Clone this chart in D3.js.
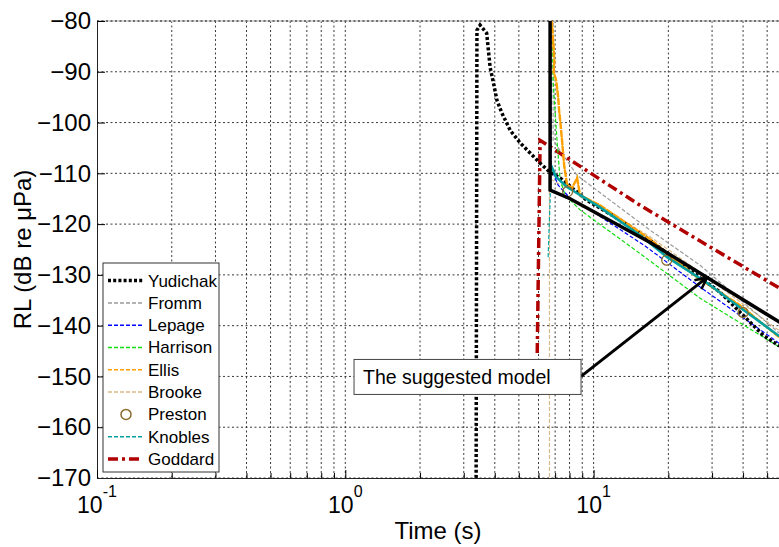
<!DOCTYPE html>
<html>
<head>
<meta charset="utf-8">
<script src="https://cdn.jsdelivr.net/npm/d3@7"></script>
<style>
body { margin: 0; background: #fff; }
svg { display: block; }
svg text { font-family: "Liberation Sans", Arial, sans-serif; }
</style>
</head>
<body>
<script>
// axis ticks
const yTicks = [-80, -90, -100, -110, -120, -130, -140, -150, -160, -170];
const xMajor = [0.1, 1, 10];
const xMajorExp = ["-1", "0", "1"];
const xMinor = [0.2, 0.3, 0.4, 0.5, 0.6, 0.7, 0.8, 0.9, 2, 3, 4, 5, 6, 7, 8, 9, 20, 30, 40, 50];

// series, [time s, RL dB]
const yudichak = [[3.364, -171], [3.39, -81.8], [3.49, -80.8], [3.71, -82.4], [3.83, -89.1], [3.95, -92.2],
  [4.08, -95.6], [4.27, -98.1], [4.61, -101.5], [5.06, -104.0], [5.55, -106.0], [6.09, -108.0], [6.68, -109.8],
  [7.33, -110.9], [9.39, -115.3], [12.8, -119.2], [16.9, -123.2], [22.9, -128.1], [32.3, -133.4], [48.2, -141.9],
  [56, -144.0]];
const fromm = [[6.87, -78], [6.87, -103.5], [8.58, -110.4], [11.65, -115.3], [16.89, -121.2], [26.85, -128.1],
  [56, -141.5]];
const lepage = [[6.74, -78], [6.74, -108.8], [7.19, -112.3], [8.04, -114.9], [9.68, -117.2], [16.12, -124.3],
  [26.85, -132.4], [56, -143.5]];
const harrison = [[6.81, -78], [6.87, -92.0], [7.13, -103.8], [7.33, -111.3], [7.68, -114.3], [8.82, -117.2],
  [15.39, -125.8], [26.85, -134.6], [56, -144.2]];
const ellis = [[6.74, -78], [6.87, -83.7], [6.95, -88], [6.9, -90], [7.06, -91.6], [7.2, -95], [7.26, -97.5],
  [7.35, -100], [7.47, -103.8], [7.61, -108.4], [7.82, -112.3], [8.19, -112.9], [8.58, -110.9], [8.82, -114.3],
  [10.62, -116.3], [16.89, -123.0], [26.12, -130.5], [38.9, -136.0], [56, -142.3]];
const brooke = [[6.64, -171], [6.64, -111], [7.2, -112], [8.0, -113], [9.4, -115], [16.9, -122.5],
  [26.85, -129.5], [56, -141]];
const preston = [[7.86, -113.6], [19.7, -127.1], [40.0, -137.4]];
const knobles = [[6.56, -126.5], [6.68, -115.3], [6.74, -108.4], [7.06, -110.7], [7.82, -112.7], [10.62, -116.7],
  [15.39, -122.2], [19.77, -126.5], [28.65, -131.6], [38.9, -136.4], [49.98, -140.3], [56, -142.1]];
const goddard = [[5.93, -145.4], [6.09, -103.5], [15.39, -116.3], [56, -132.6], [60, -133.5]];
const model = [[6.68, -78], [6.68, -113.3], [8.04, -115.0], [16.9, -123.6], [28.65, -130.5], [56, -139.3],
  [60, -140.2]];

const legendNames = ["Yudichak", "Fromm", "Lepage", "Harrison", "Ellis", "Brooke", "Preston", "Knobles", "Goddard"];
const noteText = "The suggested model";
const noteTail = [8.9, -150];
const noteTip = [28.65, -130.5];

const W = 779, H = 547;
const plotLeft = 97, plotTop = 21, plotBottom = 478;
const decade = 248.3;
const FONT = "Liberation Sans, Arial, sans-serif";

const styles = {
  Yudichak: { color: "#000", width: 3.5, dash: "3,2.2" },
  Fromm: { color: "#9a9a9a", width: 1.2, dash: "4,2" },
  Lepage: { color: "#0000ff", width: 1.2, dash: "4,2" },
  Harrison: { color: "#11dd11", width: 1.2, dash: "4,2" },
  Ellis: { color: "#ffa000", width: 1.3, dash: "4,2" },
  Brooke: { color: "#d9b98a", width: 1.2, dash: "4,2" },
  Preston: { color: "#8c6a2e" },
  Knobles: { color: "#00a0a0", width: 1.2, dash: "4,2" },
  Goddard: { color: "#b00000", width: 3.5, dash: "10,4,3,4" }
};

const svg = d3.select("body").append("svg")
  .attr("width", W)
  .attr("height", H)
  .attr("font-family", FONT);

const x = d3.scaleLog()
  .domain([0.1, 60])
  .range([plotLeft, plotLeft + decade * Math.log10(600)]);

const y = d3.scaleLinear()
  .domain([-170, -80])
  .range([plotBottom, plotTop]);

svg.append("clipPath").attr("id", "plot")
  .append("rect")
  .attr("x", plotLeft).attr("y", plotTop)
  .attr("width", W - plotLeft).attr("height", plotBottom - plotTop);

// grid
const grid = svg.append("g")
  .attr("stroke", "#222")
  .attr("stroke-width", 0.9)
  .attr("stroke-dasharray", "2,2.5");

grid.selectAll("line.gx")
  .data(xMajor.concat(xMinor).filter(d => d > 0.1))
  .enter().append("line")
  .attr("x1", d => x(d)).attr("x2", d => x(d))
  .attr("y1", plotTop).attr("y2", plotBottom);

grid.selectAll("line.gy")
  .data(yTicks)
  .enter().append("line")
  .attr("x1", plotLeft).attr("x2", W)
  .attr("y1", d => y(d)).attr("y2", d => y(d));

// top box line
svg.append("line")
  .attr("x1", plotLeft).attr("x2", W)
  .attr("y1", plotTop).attr("y2", plotTop)
  .attr("stroke", "#c8c8c8").attr("stroke-width", 1.5);
svg.append("line")
  .attr("x1", plotLeft).attr("x2", W)
  .attr("y1", plotTop).attr("y2", plotTop)
  .attr("stroke", "#222").attr("stroke-dasharray", "2,2.5");

// curves
const line = d3.line()
  .x(d => x(d[0]))
  .y(d => y(d[1]));

const plot = svg.append("g").attr("clip-path", "url(#plot)");

const drawn = [
  ["Brooke", brooke], ["Fromm", fromm], ["Goddard", goddard], ["Harrison", harrison], ["Lepage", lepage],
  ["Ellis", ellis], ["Knobles", knobles], ["Yudichak", yudichak]
];

drawn.forEach(function(s) {
  const st = styles[s[0]];
  plot.append("path")
    .attr("d", line(s[1]))
    .attr("fill", "none")
    .attr("stroke", st.color)
    .attr("stroke-width", st.width)
    .attr("stroke-dasharray", st.dash);
});

// Ellis and Knobles are dense noisy records, they read as heavy lines
plot.append("path")
  .attr("d", line(ellis))
  .attr("fill", "none")
  .attr("stroke", styles.Ellis.color)
  .attr("stroke-width", 2.4)
  .attr("stroke-dasharray", "7,1");

plot.append("path")
  .attr("d", line(knobles.slice(2)))
  .attr("fill", "none")
  .attr("stroke", styles.Knobles.color)
  .attr("stroke-width", 2.5);

plot.selectAll("circle.preston")
  .data(preston)
  .enter().append("circle")
  .attr("cx", d => x(d[0]))
  .attr("cy", d => y(d[1]))
  .attr("r", 5)
  .attr("fill", "none")
  .attr("stroke", styles.Preston.color)
  .attr("stroke-width", 1.3);

plot.append("path")
  .attr("d", line(model))
  .attr("fill", "none")
  .attr("stroke", "#000")
  .attr("stroke-width", 3.5);

// axes
svg.append("g")
  .attr("transform", `translate(${plotLeft},0)`)
  .call(d3.axisLeft(y).tickValues(yTicks).tickSizeInner(-8).tickSizeOuter(0).tickPadding(6))
  .call(g => g.attr("font-family", FONT).attr("font-size", 24))
  .call(g => g.select(".domain").attr("stroke", "#222"))
  .call(g => g.selectAll("text").attr("fill", "#000"));

svg.append("g")
  .attr("transform", `translate(0,${plotBottom})`)
  .call(d3.axisBottom(x).tickValues(xMinor).tickSizeInner(-5).tickSizeOuter(0).tickFormat(""))
  .call(g => g.select(".domain").attr("stroke", "#222"));

svg.append("g")
  .attr("transform", `translate(0,${plotBottom})`)
  .call(d3.axisBottom(x).tickValues(xMajor).tickSizeInner(-8).tickSizeOuter(0).tickFormat(""))
  .call(g => g.select(".domain").remove());

const xl = svg.selectAll("text.xl")
  .data(xMajor)
  .enter().append("text")
  .attr("x", d => x(d))
  .attr("y", 513)
  .attr("text-anchor", "middle")
  .attr("font-family", FONT)
  .attr("font-size", 23);
xl.append("tspan").text("10");
xl.append("tspan")
  .attr("dy", -16)
  .attr("font-size", 16)
  .text((d, i) => xMajorExp[i]);

svg.append("text")
  .attr("x", (plotLeft + W) / 2)
  .attr("y", 539)
  .attr("text-anchor", "middle")
  .attr("font-family", FONT)
  .attr("font-size", 24)
  .text("Time (s)");

svg.append("text")
  .attr("transform", `translate(31,${(plotTop + plotBottom) / 2}) rotate(-90)`)
  .attr("text-anchor", "middle")
  .attr("font-family", FONT)
  .attr("font-size", 24)
  .text("RL (dB re μPa)");

// legend
const lg = svg.append("g");
lg.append("rect")
  .attr("x", 103).attr("y", 263)
  .attr("width", 116).attr("height", 209)
  .attr("fill", "#fff")
  .attr("stroke", "#333");

legendNames.forEach(function(name, i) {
  const st = styles[name];
  const ly = 280.6 + i * 22.3;
  if (name === "Preston") {
    lg.append("circle")
      .attr("cx", 126).attr("cy", ly).attr("r", 5)
      .attr("fill", "none").attr("stroke", st.color).attr("stroke-width", 1.5);
  } else {
    lg.append("line")
      .attr("x1", 108).attr("x2", 143)
      .attr("y1", ly).attr("y2", ly)
      .attr("stroke", st.color)
      .attr("stroke-width", st.width === 1.2 || st.width === 1.3 ? 1.5 : st.width)
      .attr("stroke-dasharray", st.dash);
  }
  lg.append("text")
    .attr("x", 148).attr("y", ly)
    .attr("dy", "0.35em")
    .attr("font-family", FONT)
    .attr("font-size", 17)
    .text(name);
});

// annotation
const tx = x(noteTail[0]), ty = y(noteTail[1]);
const px = x(noteTip[0]), py = y(noteTip[1]);

svg.append("line")
  .attr("x1", tx).attr("y1", ty)
  .attr("x2", px).attr("y2", py)
  .attr("stroke", "#000").attr("stroke-width", 3);

const ang = Math.atan2(py - ty, px - tx);
const head = [-0.45, 0.45].map(a => [px - 13 * Math.cos(ang + a), py - 13 * Math.sin(ang + a)]);
svg.append("path")
  .attr("d", `M${head[0]}L${px},${py}L${head[1]}`)
  .attr("fill", "none")
  .attr("stroke", "#000")
  .attr("stroke-width", 2.5);

svg.append("rect")
  .attr("x", tx - 227).attr("y", ty - 17)
  .attr("width", 227).attr("height", 35)
  .attr("fill", "#fff")
  .attr("stroke", "#444");

svg.append("text")
  .attr("x", tx - 218).attr("y", ty + 1)
  .attr("dy", "0.35em")
  .attr("font-family", "Open Sans, sans-serif")
  .attr("font-size", 19.5)
  .text(noteText);
</script>
</body>
</html>
